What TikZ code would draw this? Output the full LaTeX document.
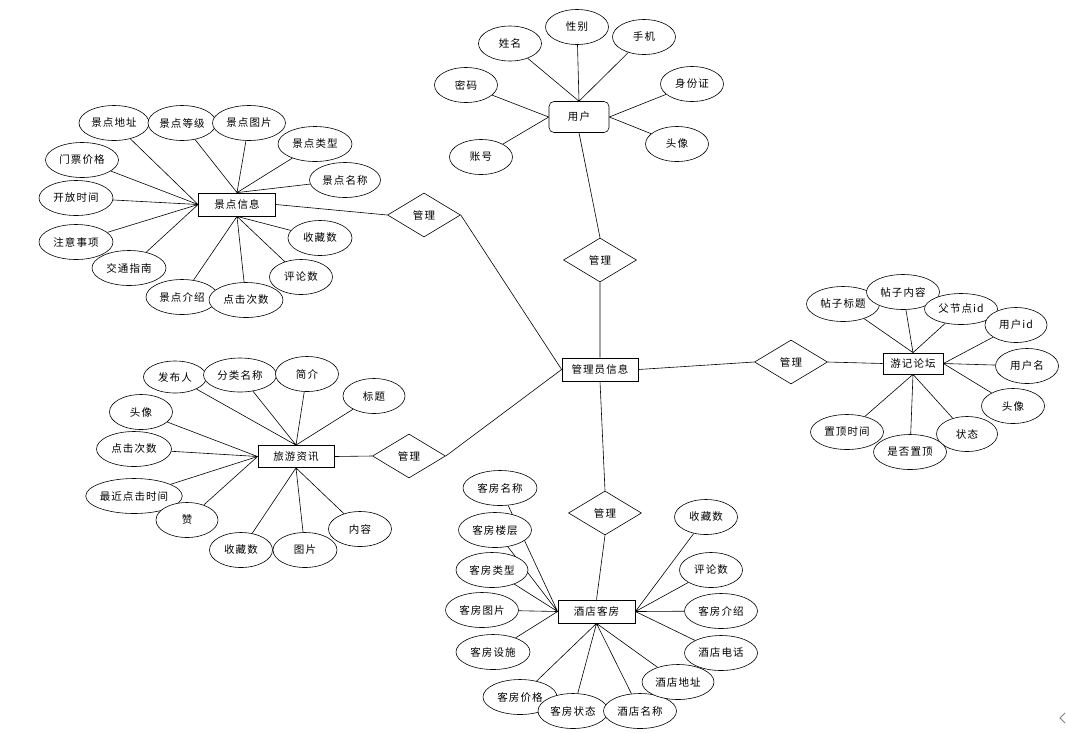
\documentclass[tikz,border=0pt]{standalone}
\usepackage{fontspec}
\newfontfamily\cjk[LetterSpace=10]{Noto Sans CJK SC}
\usetikzlibrary{shapes.geometric}
\pgfdeclarelayer{bg}
\pgfsetlayers{bg,main}
\begin{document}
\begin{tikzpicture}[x=1pt,y=-1pt,
  every node/.style={font=\cjk\fontsize{10.5}{12}\selectfont},
  attr/.style={ellipse,draw,fill=white,minimum width=63,minimum height=35,inner sep=0pt,line width=0.6pt},
  attrw/.style={attr,minimum width=73},
  ent/.style={rectangle,draw,fill=white,minimum width=77,minimum height=23,inner sep=0pt,line width=0.8pt},
  usr/.style={rectangle,rounded corners=5pt,draw,fill=white,minimum width=60,minimum height=31,inner sep=0pt,line width=0.6pt},
  rel/.style={diamond,draw,fill=white,minimum width=73,minimum height=44,inner sep=0pt,line width=0.6pt},
  conn/.style={draw,line width=0.6pt}
]
\useasboundingbox (0,0) rectangle (1067,732);

% ---------- central entities ----------
\node[ent,minimum width=76] (gly) at (600,369.5) {管理员信息};
\node[ent] (jd) at (237,204.5) {景点信息};
\node[usr] (yh) at (579,117) {用户};
\node[ent,minimum width=76,minimum height=22] (ly) at (296,456.5) {旅游资讯};
\node[ent] (kf) at (596.5,611.5) {酒店客房};
\node[ent,minimum width=60,minimum height=21] (yj) at (913,363.5) {游记论坛};

\node[rel] (m1) at (424,215) {管理};
\node[rel] (m2) at (600,260) {管理};
\node[rel] (m3) at (409,456) {管理};
\node[rel] (m4) at (605,513) {管理};
\node[rel] (m5) at (791,362) {管理};

% ---------- 景点信息 attributes ----------
\node[attrw,minimum width=70] (jd1) at (114,123) {景点地址};
\node[attrw,minimum width=68] (jd2) at (182,123) {景点等级};
\node[attrw] (jd3) at (249,123) {景点图片};
\node[attrw,minimum width=74] (jd4) at (315,144) {景点类型};
\node[attrw,minimum width=71] (jd5) at (345,180) {景点名称};
\node[attrw] (jd6) at (82,160) {门票价格};
\node[attrw,minimum width=74] (jd7) at (76,198) {开放时间};
\node[attrw,minimum width=74] (jd8) at (76,242) {注意事项};
\node[attrw,minimum width=74] (jd9) at (129,268) {交通指南};
\node[attrw,minimum width=72] (jd10) at (182,297) {景点介绍};
\node[attrw,minimum width=74] (jd11) at (246,300) {点击次数};
\node[attr] (jd12) at (301,277) {评论数};
\node[attr,minimum width=64] (jd13) at (320,238) {收藏数};

% ---------- 用户 attributes ----------
\node[attr] (yh1) at (510,43.5) {姓名};
\node[attr] (yh2) at (577,27) {性别};
\node[attr] (yh3) at (644,37) {手机};
\node[attr] (yh4) at (692,84) {身份证};
\node[attr] (yh5) at (677,144) {头像};
\node[attr] (yh6) at (466,85) {密码};
\node[attr] (yh7) at (481,157) {账号};

% ---------- 旅游资讯 attributes ----------
\node[attr,minimum height=32] (ly1) at (175,377) {发布人};
\node[attrw,minimum height=34] (ly2) at (240,375) {分类名称};
\node[attr] (ly3) at (307,374) {简介};
\node[attr,minimum width=62] (ly4) at (374,396) {标题};
\node[attr] (ly5) at (141,412) {头像};
\node[attrw,minimum width=75] (ly6) at (134,449) {点击次数};
\node[attr,minimum width=95] (ly7) at (134,496) {最近点击时间};
\node[attr,minimum width=62] (ly8) at (187,520) {赞};
\node[attr] (ly9) at (241,550) {收藏数};
\node[attr,minimum width=64] (ly10) at (305,550) {图片};
\node[attr] (ly11) at (360,529) {内容};

% ---------- 酒店客房 attributes ----------
\node[attrw,minimum width=74] (kf1) at (500,488) {客房名称};
\node[attrw] (kf2) at (495,530) {客房楼层};
\node[attrw,minimum width=72] (kf3) at (492,570) {客房类型};
\node[attrw] (kf4) at (482,610) {客房图片};
\node[attrw,minimum width=74] (kf5) at (493,652) {客房设施};
\node[attrw,minimum width=74] (kf6) at (520,697) {客房价格};
\node[attrw,minimum width=70] (kf7) at (573,711) {客房状态};
\node[attrw] (kf8) at (640,711) {酒店名称};
\node[attrw,minimum width=72] (kf9) at (678,682) {酒店地址};
\node[attrw] (kf10) at (721,653) {酒店电话};
\node[attrw] (kf11) at (721,611) {客房介绍};
\node[attr] (kf12) at (711,570) {评论数};
\node[attr] (kf13) at (706,517) {收藏数};

% ---------- 游记论坛 attributes ----------
\node[attrw] (yj1) at (843,304) {帖子标题};
\node[attrw] (yj2) at (903,292) {帖子内容};
\node[attrw,minimum height=31] (yj3) at (961,309) {父节点id};
\node[attr,minimum width=62] (yj4) at (1016,325) {用户id};
\node[attr] (yj5) at (1027,366) {用户名};
\node[attr] (yj6) at (1013,406) {头像};
\node[attr,minimum width=61] (yj7) at (967,434) {状态};
\node[attrw] (yj8) at (847,432) {置顶时间};
\node[attrw] (yj9) at (910,452) {是否置顶};

% ---------- connectors ----------
\begin{pgfonlayer}{bg}
\path[conn]
  (jd.east) -- (m1.west)  (m1.east) -- (gly.west)
  (yh.south) -- (m2.north) (m2.south) -- (gly.north)
  (ly.east) -- (m3.west)  (m3.east) -- (gly.west)
  (gly.south) -- (m4.north) (m4.south) -- (kf.north)
  (gly.east) -- (m5.west) (m5.east) -- (yj.west);
\path[conn]
  (jd.west) -- (jd1) (jd.west) -- (jd6) (jd.west) -- (jd7) (jd.west) -- (jd8) (jd.west) -- (jd9)
  (jd.north) -- (jd2) (jd.north) -- (jd3) (jd.north) -- (jd4) (jd.north) -- (jd5)
  (jd.south) -- (jd10) (jd.south) -- (jd11) (jd.south) -- (jd12) (jd.south) -- (jd13);
\path[conn]
  (yh.north) -- (yh1) (yh.north) -- (yh2) (yh.north) -- (yh3)
  (yh.west) -- (yh6) (yh.west) -- (yh7)
  (yh.east) -- (yh4) (yh.east) -- (yh5);
\path[conn]
  (ly.north) -- (ly1) (ly.north) -- (ly2) (ly.north) -- (ly3) (ly.north) -- (ly4)
  (ly.west) -- (ly5) (ly.west) -- (ly6) (ly.west) -- (ly7) (ly.west) -- (ly8)
  (ly.south) -- (ly9) (ly.south) -- (ly10) (ly.south) -- (ly11);
\path[conn]
  (kf.west) -- (kf1) (kf.west) -- (kf2) (kf.west) -- (kf3) (kf.west) -- (kf4) (kf.west) -- (kf5)
  (kf.south) -- (kf6) (kf.south) -- (kf7) (kf.south) -- (kf8) (kf.south) -- (kf9)
  (kf.east) -- (kf10) (kf.east) -- (kf11) (kf.east) -- (kf12) (kf.east) -- (kf13);
\path[conn]
  (yj.north) -- (yj1) (yj.north) -- (yj2) (yj.north) -- (yj3)
  (yj.east) -- (yj4) (yj.east) -- (yj5) (yj.east) -- (yj6)
  (yj.south) -- (yj7) (yj.south) -- (yj8) (yj.south) -- (yj9);
\end{pgfonlayer}

% small scroll chevron at bottom right
\draw[gray,line width=0.8pt] (1065,713) -- (1060,718) -- (1065,723);
\end{tikzpicture}
\end{document}
